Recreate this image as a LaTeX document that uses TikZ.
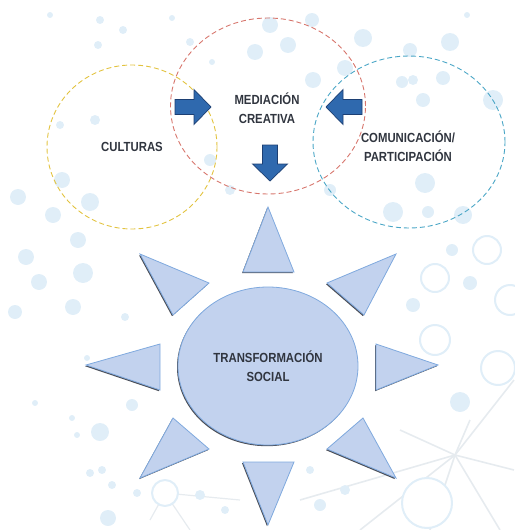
\documentclass[tikz,border=0pt]{standalone}
\usepackage{fontspec}
\setmainfont{Liberation Sans}
\newfontfamily\lblfont[FakeStretch=0.86]{Liberation Sans}
\usetikzlibrary{shapes.geometric,shadows}
\definecolor{dotblue}{HTML}{E0EEF8}
\definecolor{netgray}{HTML}{E6EBEF}
\definecolor{sunfill}{HTML}{C2D2EE}
\definecolor{sunedge}{HTML}{7FA9DE}
\definecolor{shadowgray}{HTML}{2B2F3A}
\definecolor{arrowblue}{HTML}{2F69AE}
\definecolor{arrowdark}{HTML}{1C3F73}
\definecolor{labelgray}{HTML}{30353F}
\definecolor{ringred}{HTML}{D7766D}
\definecolor{ringyellow}{HTML}{E2C340}
\definecolor{ringteal}{HTML}{4AA6C6}
\tikzset{
  ring/.style={ellipse, draw=#1, dash pattern=on 5pt off 3pt, line width=0.9pt, inner sep=0pt},
  lbl/.style={font=\lblfont\bfseries\fontsize{13.2}{18.5}\selectfont, text=labelgray, align=center},
  sunpart/.style={fill=sunfill, draw=sunedge, line width=0.8pt,
    drop shadow={shadow xshift=-1pt, shadow yshift=-1.2pt, fill=shadowgray, opacity=0.85}},
  arrowbody/.style={fill=arrowblue, draw=arrowdark, line width=0.7pt},
  pics/fatarrow/.style={code={
    \draw[arrowbody] (-17,-7.5) -- (2,-7.5) -- (2,-17.5) -- (19,0) -- (2,17.5) -- (2,7.5) -- (-17,7.5) -- cycle;
  }}
}

\begin{document}
\begin{tikzpicture}[x=1pt,y=-1pt]
  \useasboundingbox (0,0) rectangle (514,530);

  % faint network in the background
  \foreach \ex/\ey in {360/530, 400/430, 470/420, 514/470, 514/380, 430/530, 300/500, 500/530}
    \draw[netgray, line width=1.6pt] (455,455) -- (\ex,\ey);
  \foreach \ex/\ey in {190/530, 240/500, 150/520}
    \draw[netgray, line width=1.2pt] (165,493) -- (\ex,\ey);

  % bubbles
  \foreach \x/\y/\r in {62/180/8, 18/197/8, 90/202/9, 53/215/8, 78/240/8, 26/257/8,
      83/273/10, 39/282/8, 15/312/7, 73/307/8, 125/317/4, 87/358/3, 35/403/3,
      132/405/6, 72/418/3, 100/432/9, 77/435/3, 90/473/4, 102/470/4, 112/485/4,
      137/493/4, 108/518/8, 100/20/4, 123/30/4, 98/45/4, 172/18/3, 50/15/3,
      255/52/8, 288/45/8, 270/25/8, 312/20/7, 313/80/8, 363/38/9, 345/68/8,
      450/42/9, 410/50/7, 402/82/6, 413/80/5, 443/78/7, 423/100/7, 493/100/10,
      467/15/3, 212/62/3, 190/42/4, 425/183/10, 393/212/10, 428/212/6, 463/215/9,
      452/250/6, 413/305/7, 470/283/7, 460/402/10, 200/495/5, 225/510/4, 320/505/6,
      345/490/5, 310/470/4, 60/125/4, 95/120/5, 210/160/6, 230/190/5, 330/190/6}
    \fill[dotblue] (\x,\y) circle (\r);
  \foreach \x/\y/\r in {487/250/14, 435/278/14, 435/340/15, 510/300/15, 498/368/17,
      427/503/25, 165/493/13}
    \filldraw[fill=white, draw=dotblue, line width=2pt] (\x,\y) circle (\r);

  % three dashed circles
  \node[ring=ringyellow, minimum width=170pt, minimum height=164pt] (cult) at (132,147) {};
  \node[ring=ringred, minimum width=195pt, minimum height=176pt] (medi) at (268,106) {};
  \node[ring=ringteal, minimum width=192pt, minimum height=172pt] (comu) at (409,142) {};
  \node[lbl] (cultTxt) at (132,147) {CULTURAS};
  \node[lbl] (mediTxt) at (267,108) {MEDIACIÓN\\CREATIVA};
  \node[lbl] (comuTxt) at (408,146) {COMUNICACIÓN/\\PARTICIPACIÓN};

  % block arrows
  \pic (inLeft) [rotate=0] at (192,107) {fatarrow};
  \pic (inRight) [rotate=180] at (345,107) {fatarrow};
  \pic (outDown) [rotate=-90] at (270,162) {fatarrow};

  % sun rays
  \foreach \ax/\ay/\bx/\by/\cx/\cy in {
      268/207/243/272/294/272, 268/525/243/462/294/462,
      86/365/160/344/160/390, 438/365/376/344/376/390,
      140/254/209/283/173/315, 396/254/327/283/364/315,
      140/478/209/449/173/418, 396/478/327/449/363/418}
    \draw[sunpart] (\ax,\ay) -- (\bx,\by) -- (\cx,\cy) -- cycle;

  % sun body
  \node[ellipse, sunpart, minimum width=180pt, minimum height=158pt, lbl] (core) at (268,366) {TRANSFORMACIÓN\\SOCIAL};
\end{tikzpicture}
\end{document}
